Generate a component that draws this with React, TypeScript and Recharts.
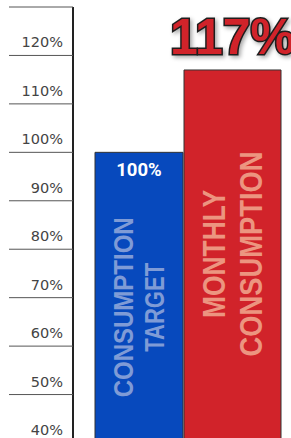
import { BarChart, Bar, XAxis, YAxis, LabelList } from "recharts";

// Consumption target vs. actual monthly consumption, as % of target.
const SERIES_KEYS = ["target", "monthly"];
const SERIES_VALUES = [100, 117];
const SERIES_LINES = [
  ["CONSUMPTION", "TARGET"],
  ["MONTHLY", "CONSUMPTION"],
];
const Y_TICKS = [40, 50, 60, 70, 80, 90, 100, 110, 120, 130];

const BLUE = "#0749bd";
const RED = "#d1232a";

const row: Record<string, number | string> = { name: "consumption" };
SERIES_KEYS.forEach((k, i) => (row[k] = SERIES_VALUES[i]));
const data = [row];

function PercentTick(props: any) {
  const { y, payload } = props;
  // the label sits above its line; the top one has no room, so only the line shows
  const showText = y - 8 > 14;
  return (
    <g>
      <line x1={9} x2={73} y1={y} y2={y} stroke="#555" strokeWidth={1} />
      {showText && (
        <text
          x={63}
          y={y - 8}
          textAnchor="end"
          fontSize={14.5}
          fontFamily="'DejaVu Sans', sans-serif"
          fill="#444"
        >
          {payload.value}%
        </text>
      )}
    </g>
  );
}

// vertical caption inside a bar, lines side by side
function makeCaption(lines: string[], fontSize: number, lengths: number[], color: string, centerOffset: number, spread: number) {
  return function Caption(props: any) {
    const { x, y, width } = props;
    const cx = x + width / 2;
    const cy = y + centerOffset;
    return (
      <g>
        {lines.map((t, i) => {
          const lx = cx + (i - (lines.length - 1) / 2) * spread;
          return (
            <text
              key={t + i}
              x={lx}
              y={cy}
              transform={`rotate(-90, ${lx}, ${cy})`}
              textAnchor="middle"
              dominantBaseline="central"
              fontFamily="'Liberation Sans', Arial, sans-serif"
              fontWeight={700}
              fontSize={fontSize}
              textLength={lengths[i]}
              lengthAdjust="spacingAndGlyphs"
              fill={color}
            >
              {t}
            </text>
          );
        })}
      </g>
    );
  };
}

function InsideTopLabel(props: any) {
  const { x, y, width, value } = props;
  return (
    <text
      x={x + width / 2}
      y={y + 24}
      textAnchor="middle"
      fontFamily="Roboto, sans-serif"
      fontWeight={700}
      fontSize={18.5}
      fill="#fff"
    >
      {value}%
    </text>
  );
}

function BigTopLabel(props: any) {
  const { x, y, width, value } = props;
  return (
    <text
      x={x + width / 2}
      y={y - 16}
      textAnchor="middle"
      fontFamily="'Liberation Sans', Arial, sans-serif"
      fontWeight={700}
      fontSize={50}
      fill={RED}
      stroke="#1e1e1e"
      strokeWidth={3}
      paintOrder="stroke"
      style={{ filter: "drop-shadow(2px 2px 2px rgba(0,0,0,0.35))" }}
    >
      {value}%
    </text>
  );
}

export default function App() {
  return (
    <div
      style={{
        position: "fixed",
        left: 0,
        top: 0,
        width: 291,
        height: 438,
        overflow: "hidden",
        background: "#fff",
      }}
    >
      <BarChart
        width={291}
        height={443}
        data={data}
        margin={{ top: 7, right: 0, bottom: 0, left: 0 }}
        barGap={1}
      >
        <XAxis dataKey="name" hide padding={{ left: 12, right: 0 }} />
        <YAxis
          width={73}
          domain={[40, 130]}
          ticks={Y_TICKS}
          interval={0}
          tickLine={false}
          axisLine={{ stroke: "#222", strokeWidth: 2 }}
          tick={<PercentTick />}
        />
        <Bar dataKey="target" barSize={88} fill={BLUE} stroke="#333" strokeWidth={1} isAnimationActive={false}>
          <LabelList dataKey="target" content={<InsideTopLabel />} />
          <LabelList
            dataKey="target"
            content={makeCaption(SERIES_LINES[0], 28, [180, 89], "#7f9bd6", 155, 31)}
          />
        </Bar>
        <Bar dataKey="monthly" barSize={97} fill={RED} stroke="#333" strokeWidth={1} isAnimationActive={false}>
          <LabelList dataKey="monthly" content={<BigTopLabel />} />
          <LabelList
            dataKey="monthly"
            content={makeCaption(SERIES_LINES[1], 32, [128, 205], "#ec9580", 184, 37)}
          />
        </Bar>
      </BarChart>
    </div>
  );
}
